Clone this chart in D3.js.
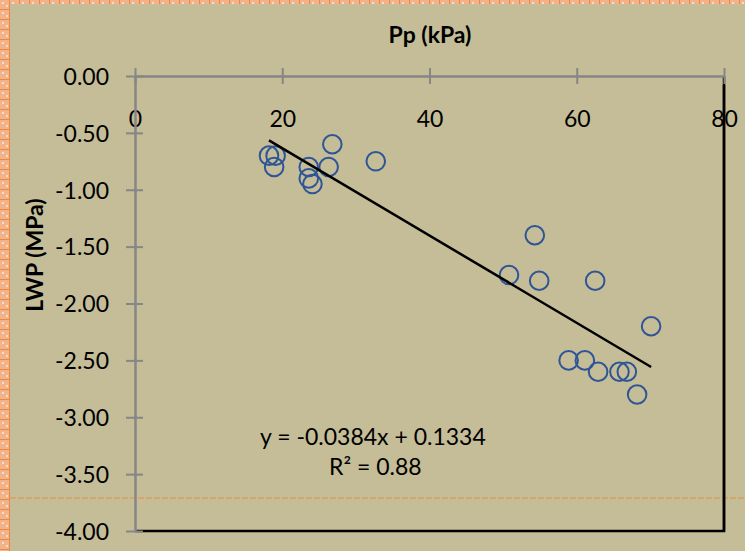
<!DOCTYPE html>
<html>
<head>
<meta charset="utf-8">
<script src="https://cdn.jsdelivr.net/npm/d3@7/dist/d3.min.js"></script>
<style>
  html, body { margin: 0; padding: 0; background: #C4BD97; }
  svg { display: block; font-family: Lato, "Open Sans", sans-serif; }
</style>
</head>
<body>
<svg width="745" height="551"></svg>
<script>
// données
const pp = [18.2, 19.1, 18.9, 23.6, 23.6, 24.1, 26.8, 26.3, 32.7, 50.8, 54.3, 54.9, 62.5, 70.1, 58.9, 61.1, 62.9, 65.8, 66.8, 68.2];
const lwp = [-0.7, -0.7, -0.8, -0.8, -0.9, -0.95, -0.6, -0.8, -0.75, -1.75, -1.4, -1.8, -1.8, -2.2, -2.5, -2.5, -2.6, -2.6, -2.6, -2.8];
const xTicks = [0, 20, 40, 60, 80];
const yTicks = [0, -0.5, -1, -1.5, -2, -2.5, -3, -3.5, -4];
const slope = -0.0384;
const intercept = 0.1334;
const eqLabel = "y = -0.0384x + 0.1334";
const r2Label = "R² = 0.88";

const svg = d3.select("svg");

/*----------- fond -----------*/
const defs = svg.append("defs");
const pat = defs.append("pattern")
  .attr("id", "tex").attr("width", 10).attr("height", 10)
  .attr("patternUnits", "userSpaceOnUse");
pat.append("rect").attr("width", 10).attr("height", 10).attr("fill", "#F2B28A");
pat.append("rect").attr("x", 2).attr("y", 2).attr("width", 2).attr("height", 2).attr("fill", "#F9DCC8");
pat.append("rect").attr("x", 6).attr("y", 5).attr("width", 2).attr("height", 2).attr("fill", "#F9DCC8");
pat.append("rect").attr("x", 0).attr("y", 9).attr("width", 10).attr("height", 1).attr("fill", "#EC8A45");
pat.append("rect").attr("x", 9).attr("y", 0).attr("width", 1).attr("height", 10).attr("fill", "#EC8A45");

svg.append("rect").attr("width", 745).attr("height", 551).attr("fill", "#C4BD97");
svg.append("rect").attr("x", 0).attr("y", 0).attr("width", 745).attr("height", 4).attr("fill", "url(#tex)");
svg.append("rect").attr("x", 0).attr("y", 0).attr("width", 10).attr("height", 551).attr("fill", "url(#tex)");
svg.append("line")
  .attr("x1", 10).attr("x2", 745).attr("y1", 498).attr("y2", 498)
  .attr("stroke", "#E8903F").attr("stroke-width", 1).attr("stroke-dasharray", "6,2");

/*----------- échelles -----------*/
const x = d3.scaleLinear().domain([0, 80]).range([135, 724]);
const y = d3.scaleLinear().domain([-4, 0]).range([531, 76]);

// bordure noire droite et bas
svg.append("path")
  .attr("d", `M${x(80)},${y(0)}V${y(-4)}H${x(0)}`)
  .attr("fill", "none").attr("stroke", "#000").attr("stroke-width", 2.5);

/*----------- axes -----------*/
const xAxis = svg.append("g")
  .attr("transform", "translate(0," + y(0) + ")")
  .call(d3.axisBottom(x).tickValues(xTicks).tickSize(8).tickSizeOuter(0));
xAxis.selectAll(".tick line").attr("y1", -8).attr("y2", 8);
xAxis.selectAll("text")
  .attr("y", 51).attr("dy", null)
  .attr("font-size", 23).attr("fill", "#000")
  .style("font-family", "Lato, sans-serif");

const yAxis = svg.append("g")
  .attr("transform", "translate(" + x(0) + ",0)")
  .call(d3.axisLeft(y).tickValues(yTicks).tickSize(8).tickSizeOuter(0).tickFormat((d) => d.toFixed(2)));
yAxis.selectAll(".tick line").attr("x1", -9).attr("x2", 8);
yAxis.selectAll("text")
  .attr("x", -26).attr("dy", "0.36em")
  .attr("font-size", 23).attr("fill", "#000")
  .style("font-family", "Lato, sans-serif");

svg.selectAll(".domain").attr("stroke", "#868686").attr("stroke-width", 2.5);
svg.selectAll(".tick line").attr("stroke", "#868686").attr("stroke-width", 2);

// la ligne noire passe par-dessus le "80"
svg.append("line")
  .attr("x1", x(80)).attr("x2", x(80)).attr("y1", y(0) + 9).attr("y2", y(-4))
  .attr("stroke", "#000").attr("stroke-width", 2.5);

/*----------- titres -----------*/
svg.append("text")
  .attr("x", 430).attr("y", 43).attr("text-anchor", "middle")
  .attr("font-size", 23).attr("font-weight", "bold")
  .text("Pp (kPa)");
svg.append("text")
  .attr("transform", "translate(43,255) rotate(-90)")
  .attr("text-anchor", "middle")
  .attr("font-size", 23).attr("font-weight", "bold")
  .text("LWP (MPa)");

/*----------- points -----------*/
svg.selectAll("circle.pt")
  .data(pp.map((p, i) => ({ p: p, w: lwp[i] })))
  .enter()
  .append("circle")
  .attr("class", "pt")
  .attr("cx", (d) => x(d.p))
  .attr("cy", (d) => y(d.w))
  .attr("r", 9.3)
  .attr("fill", "none")
  .attr("stroke", "#2F5597")
  .attr("stroke-width", 2);

/*----------- tendance -----------*/
const xMin = d3.min(pp), xMax = d3.max(pp);
svg.append("line")
  .attr("x1", x(xMin)).attr("y1", y(slope * xMin + intercept))
  .attr("x2", x(xMax)).attr("y2", y(slope * xMax + intercept))
  .attr("stroke", "#000").attr("stroke-width", 2.5);

svg.append("text").attr("x", 260).attr("y", 445)
  .attr("font-size", 23).text(eqLabel);
svg.append("text").attr("x", 329).attr("y", 475)
  .attr("font-size", 23).text(r2Label);
</script>
</body>
</html>
